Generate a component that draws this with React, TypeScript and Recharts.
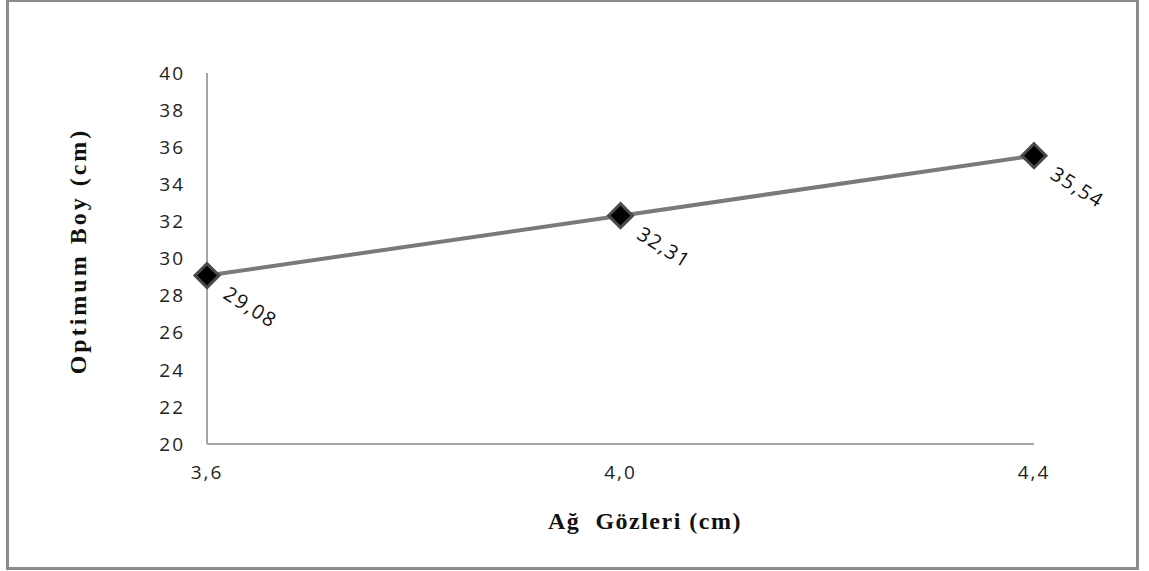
import { LineChart, Line, XAxis, YAxis, LabelList } from 'recharts';

const meshSizes = ['3,6', '4,0', '4,4'];
const optimumLengths = [29.08, 32.31, 35.54];
const yTicks = [20, 22, 24, 26, 28, 30, 32, 34, 36, 38, 40];

const data = meshSizes.map((m, i) => ({ mesh: m, boy: optimumLengths[i] }));

const TickText = (props: any) => {
  const { x, y, payload, textAnchor, vertical } = props;
  return (
    <text
      x={x}
      y={y}
      dy={vertical ? '0.355em' : '0.71em'}
      textAnchor={textAnchor}
      fontFamily='Open Sans'
      fontSize={19}
      fill='#222'
      letterSpacing={2}
    >
      {payload.value}
    </text>
  );
};

const Diamond = (props: any) => {
  const { cx, cy } = props;
  if (cx == null || cy == null) return null;
  const r = 12;
  return (
    <polygon
      points={`${cx},${cy - r} ${cx + r},${cy} ${cx},${cy + r} ${cx - r},${cy}`}
      fill='#000'
      stroke='#4a4a4a'
      strokeWidth={3}
    />
  );
};

const ValueLabel = (props: any) => {
  const { x, y, value } = props;
  return (
    <text
      transform={`translate(${x + 15},${y + 22}) rotate(32)`}
      fontFamily='Open Sans'
      fontSize={20}
      fill='#111'
      letterSpacing={1.5}
    >
      {String(value.toFixed(2)).replace('.', ',')}
    </text>
  );
};

const XTitle = () => (
  <text x={645} y={529} textAnchor='middle' fontFamily='Liberation Serif' fontWeight='bold' fontSize={24} fill='#111' letterSpacing={1.5}>
    Ağ{'\u00a0\u00a0'}Gözleri (cm)
  </text>
);

const YTitle = () => (
  <text transform='translate(86,251) rotate(-90)' textAnchor='middle' fontFamily='Liberation Serif' fontWeight='bold' fontSize={24} fill='#111' letterSpacing={3}>
    Optimum Boy (cm)
  </text>
);

const App = () => {
  return (
    <div style={{ position: 'absolute', left: 0, top: 0, width: 1149, height: 571, background: '#fff' }}>
      <div
        style={{
          position: 'absolute',
          left: 6,
          top: -1,
          width: 1133,
          height: 571,
          border: '3px solid #8c8c8c',
          boxSizing: 'border-box',
        }}
      />
      <div style={{ position: 'absolute', left: 0, top: 0 }}>
        <LineChart width={1149} height={571} data={data} margin={{ top: 73, right: 115, left: 0, bottom: 0 }}>
          <XAxis
            dataKey='mesh'
            height={127}
            tickLine={false}
            tickSize={0}
            tickMargin={22}
            stroke='#a6a6a6'
            strokeWidth={2}
            tick={<TickText />}
            label={<XTitle />}
          />
          <YAxis
            width={207}
            domain={[20, 40]}
            ticks={yTicks}
            interval={0}
            tickLine={false}
            tickSize={0}
            tickMargin={22}
            stroke='#a6a6a6'
            strokeWidth={2}
            tick={<TickText vertical />}
            label={<YTitle />}
          />
          <Line
            dataKey='boy'
            type='linear'
            stroke='#7a7a7a'
            strokeWidth={4}
            dot={<Diamond />}
            activeDot={false}
            isAnimationActive={false}
          >
            <LabelList dataKey='boy' content={<ValueLabel />} />
          </Line>
        </LineChart>
      </div>
    </div>
  );
};

export default App;
